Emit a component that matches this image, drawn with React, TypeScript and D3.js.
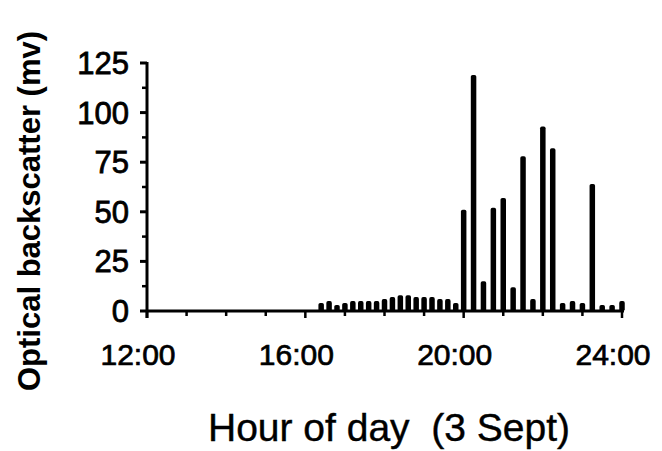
import React from "react";
import * as d3 from "d3";

const times = [
  "16:24", "16:36", "16:48", "17:00", "17:12", "17:24", "17:36", "17:48",
  "18:00", "18:12", "18:24", "18:36", "18:48", "19:00", "19:12", "19:24",
  "19:36", "19:48",
  "20:00", "20:15", "20:30", "20:45", "21:00", "21:15", "21:30", "21:45",
  "22:00", "22:15", "22:30", "22:45", "23:00", "23:15", "23:30", "23:45", "24:00",
];
const values = [
  4, 5, 3, 4, 5, 5, 5, 5,
  6, 7, 8, 8, 7, 7, 7, 6,
  6, 4,
  51, 119, 15, 52, 57, 12, 78, 6,
  93, 82, 4, 5, 4, 64, 3, 3, 5,
];
const yTicks = [0, 25, 50, 75, 100, 125];
const xTickLabels = ["12:00", "16:00", "20:00", "24:00"];
const xTitle = "Hour of day  (3 Sept)";
const yTitle = "Optical backscatter (mv)";

const toHours = (t: string) => {
  const [h, m] = t.split(":").map(Number);
  return h + m / 60;
};

export default function App() {
  const x = d3.scaleLinear().domain([12, 24]).range([147, 622]);
  const y = d3.scaleLinear().domain([0, 125]).range([311, 63]);
  const font = "'Liberation Sans', Arial, sans-serif";
  const hourTicks = d3.range(12, 25, 1);
  const minorY = d3.range(12.5, 125, 25);
  const bw = 5.5;
  return (
    <div style={{ position: "absolute", left: 0, top: 0 }}>
      <svg width={662} height={451} style={{ display: "block", background: "#fff" }}>
        {/* bars */}
        {times.map((t, i) => {
          const cx = x(toHours(t));
          const top = y(values[i]);
          return (
            <rect
              key={t}
              x={cx - bw / 2}
              y={top}
              width={bw}
              height={y(0) - top}
              rx={1.8}
              fill="#000"
            />
          );
        })}
        {/* x axis */}
        <line x1={x(12)} x2={x(24) + 2} y1={y(0)} y2={y(0)} stroke="#000" strokeWidth={3} />
        {hourTicks.map((h) => (
          <line key={h} x1={x(h)} x2={x(h)} y1={y(0)} y2={y(0) + (h % 4 === 0 ? 7 : 5)} stroke="#000" strokeWidth={2.5} />
        ))}
        {xTickLabels.map((lab) => (
          <text
            key={lab}
            x={x(toHours(lab)) - 9}
            y={365}
            textAnchor="middle"
            fontFamily={font}
            fontSize={30}
            stroke="#000"
            strokeWidth={0.7}
          >
            {lab}
          </text>
        ))}
        {/* y axis */}
        <line x1={x(12)} x2={x(12)} y1={y(125) - 1} y2={y(0) + 7} stroke="#000" strokeWidth={3} />
        {yTicks.map((v) => (
          <line key={v} x1={x(12) - 7} x2={x(12)} y1={y(v)} y2={y(v)} stroke="#000" strokeWidth={3} />
        ))}
        {minorY.map((v) => (
          <line key={v} x1={x(12) - 5} x2={x(12)} y1={y(v)} y2={y(v)} stroke="#000" strokeWidth={2.5} />
        ))}
        {yTicks.map((v) => (
          <text
            key={v}
            x={129}
            y={y(v) + 11}
            textAnchor="end"
            fontFamily={font}
            fontSize={31}
            stroke="#000"
            strokeWidth={0.8}
          >
            {v}
          </text>
        ))}
        {/* titles */}
        <text
          x={389}
          y={441}
          textAnchor="middle"
          fontFamily={font}
          fontSize={39}
          stroke="#000"
          strokeWidth={0.4}
          style={{ whiteSpace: "pre" }}
        >
          {xTitle}
        </text>
        <text
          transform="translate(40,211) rotate(-90)"
          textAnchor="middle"
          fontFamily={font}
          fontWeight="bold"
          fontSize={31}
        >
          {yTitle}
        </text>
      </svg>
    </div>
  );
}
